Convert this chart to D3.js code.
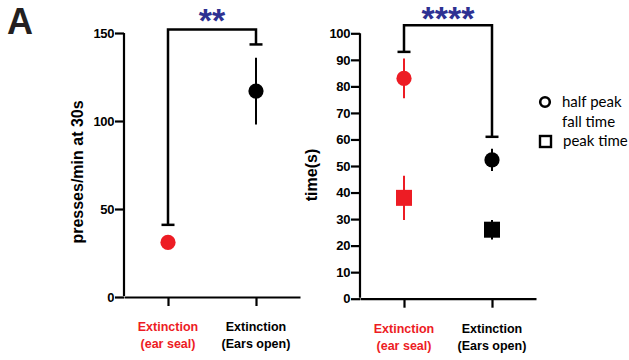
<!DOCTYPE html>
<html><head><meta charset="utf-8">
<script src="https://cdn.jsdelivr.net/npm/d3@7"></script>
<style>body{margin:0;background:#fff}</style>
</head><body>
<script>
// ---- data ----
const categories = ["ear seal", "Ears open"];
const catLine1 = ["Extinction", "Extinction"];
const catLine2 = ["(ear seal)", "(Ears open)"];
const catColors = ["#ed1c24", "#000000"];

const pressMean = [31, 117];
const pressSem = [2, 19];
const pressTicks = [0, 50, 100, 150];
const pressBracket = [41, 143.5];
const pressBracketTop = 152;
const pressStars = "**";

const halfFallMean = [83, 52.3];
const halfFallSem = [7.5, 4.2];
const peakMean = [38, 26];
const peakSem = [8.3, 3.7];
const timeTicks = [0, 10, 20, 30, 40, 50, 60, 70, 80, 90, 100];
const timeBracket = [93, 61];
const timeBracketTop = 103;
const timeStars = "****";

const legendLabels = [["half peak", "fall time"], ["peak time"]];

// ---- drawing ----
const W = 629, H = 360;
const svg = d3.select("body").append("svg").attr("width", W).attr("height", H)
  .style("font-family", "'Liberation Sans', Arial, sans-serif");

svg.append("text").attr("x", 7).attr("y", 34).attr("font-size", 36).attr("font-weight", "bold")
  .attr("fill", "#231f20").text("A");

const starColor = "#2e3192";

function panel(cfg) {
  const x = d3.scalePoint().domain(categories).range([cfg.x0, cfg.x1]).padding(0.5);
  const y = d3.scaleLinear().domain(cfg.domain).range([cfg.yBottom, cfg.yTop]);
  const g = svg.append("g");

  const ya = g.append("g").attr("transform", `translate(${cfg.x0},0)`)
    .call(d3.axisLeft(y).tickValues(cfg.ticks).tickSize(9).tickSizeOuter(0).tickPadding(1));
  const xa = g.append("g").attr("transform", `translate(0,${cfg.yBottom})`)
    .call(d3.axisBottom(x).tickSize(9).tickSizeOuter(0).tickFormat(""));
  [ya, xa].forEach(a => {
    a.selectAll("path,line").attr("stroke", "#000").attr("stroke-width", 2.2);
    a.selectAll("text").attr("font-size", 13).attr("font-weight", "bold")
      .attr("font-family", "'Liberation Sans', Arial, sans-serif").attr("fill", "#000")
      .attr("letter-spacing", -0.4);
  });
  ya.select(".domain").attr("d", `M0,${cfg.yBottom - 1}V${cfg.yTop}`);

  // category labels
  categories.forEach((c, i) => {
    const t = g.append("text").attr("text-anchor", "middle").attr("font-size", 12.5)
      .attr("font-weight", "bold").attr("fill", catColors[i]);
    t.append("tspan").attr("x", x(c)).attr("y", cfg.yBottom + 34).text(catLine1[i]);
    t.append("tspan").attr("x", x(c)).attr("y", cfg.yBottom + 51).text(catLine2[i]);
  });

  // y label
  g.append("text").attr("transform", `translate(${cfg.labelX},${cfg.labelY}) rotate(-90)`)
    .attr("text-anchor", "middle").attr("font-size", cfg.labelSize).attr("font-weight", "bold")
    .attr("fill", "#000").text(cfg.label);

  // bracket
  const bx0 = x(categories[0]), bx1 = x(categories[1]);
  const yt = y(cfg.bracketTop);
  g.append("path").attr("fill", "none").attr("stroke", "#000").attr("stroke-width", 2.5)
    .attr("d", `M${bx0},${y(cfg.bracket[0])}V${yt}H${bx1}V${y(cfg.bracket[1])}`);
  cfg.bracket.forEach((v, i) => {
    const cx = i === 0 ? bx0 : bx1;
    g.append("line").attr("x1", cx - 6.5).attr("x2", cx + 6.5).attr("y1", y(v)).attr("y2", y(v))
      .attr("stroke", "#000").attr("stroke-width", 2.5);
  });
  g.append("text").attr("x", (bx0 + bx1) / 2).attr("y", cfg.starY).attr("text-anchor", "middle")
    .attr("font-size", 34).attr("font-weight", "bold").attr("fill", starColor).text(cfg.stars);

  // series
  cfg.series.forEach(s => {
    categories.forEach((c, i) => {
      const cx = x(c);
      g.append("line").attr("x1", cx).attr("x2", cx)
        .attr("y1", y(s.mean[i] + s.sem[i])).attr("y2", y(s.mean[i] - s.sem[i]))
        .attr("stroke", catColors[i]).attr("stroke-width", 2);
      if (s.shape === "circle") {
        g.append("circle").attr("cx", cx).attr("cy", y(s.mean[i])).attr("r", 7.6).attr("fill", catColors[i]);
      } else {
        g.append("rect").attr("x", cx - 8).attr("y", y(s.mean[i]) - 8).attr("width", 16).attr("height", 16)
          .attr("fill", catColors[i]);
      }
    });
  });
  return { x, y };
}

panel({
  x0: 124, x1: 300, yBottom: 297, yTop: 33, domain: [0, 150], ticks: pressTicks,
  label: "presses/min at 30s", labelX: 83, labelY: 172, labelSize: 16,
  bracket: pressBracket, bracketTop: pressBracketTop, stars: pressStars, starY: 32,
  series: [{ mean: pressMean, sem: pressSem, shape: "circle" }]
});

panel({
  x0: 360, x1: 536, yBottom: 298.7, yTop: 33.3, domain: [0, 100], ticks: timeTicks,
  label: "time(s)", labelX: 317, labelY: 175, labelSize: 16,
  bracket: timeBracket, bracketTop: timeBracketTop, stars: timeStars, starY: 30,
  series: [{ mean: halfFallMean, sem: halfFallSem, shape: "circle" },
           { mean: peakMean, sem: peakSem, shape: "square" }]
});

// legend
const lg = svg.append("g").style("font-family", "Lato, sans-serif");
lg.append("circle").attr("cx", 545).attr("cy", 102).attr("r", 4.8).attr("fill", "none")
  .attr("stroke", "#000").attr("stroke-width", 2.6);
lg.append("rect").attr("x", 540).attr("y", 136).attr("width", 11).attr("height", 11).attr("fill", "none")
  .attr("stroke", "#000").attr("stroke-width", 2.4);
const t1 = lg.append("text").attr("font-size", 15).attr("fill", "#000");
t1.append("tspan").attr("x", 562).attr("y", 107).text(legendLabels[0][0]);
t1.append("tspan").attr("x", 562).attr("y", 127).text(legendLabels[0][1]);
lg.append("text").attr("font-size", 15).attr("fill", "#000").attr("x", 563).attr("y", 146).text(legendLabels[1][0]);
</script>
</body></html>
